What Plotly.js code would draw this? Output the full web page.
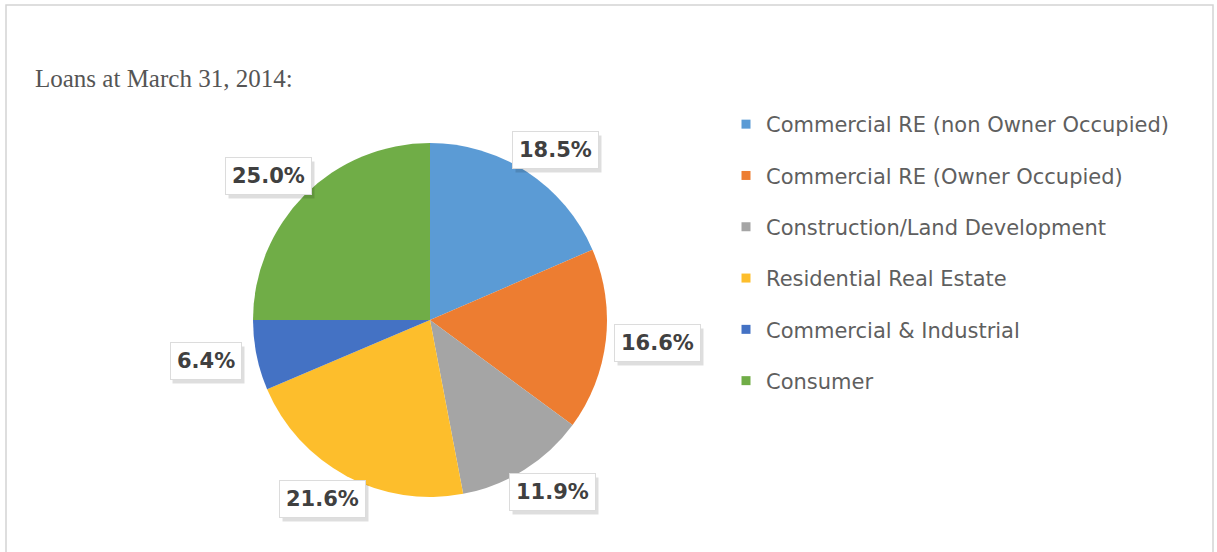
<!DOCTYPE html>
<html>
<head>
<meta charset="utf-8">
<script src="https://cdn.plot.ly/plotly-3.0.1.min.js"></script>
<style>
  html, body { margin: 0; padding: 0; background: #ffffff; }
  #chart { width: 1217px; height: 552px; }
</style>
</head>
<body>
<div id="chart"></div>
<script>
// ---- data ----
const categories = [
  "Commercial RE (non Owner Occupied)",
  "Commercial RE (Owner Occupied)",
  "Construction/Land Development",
  "Residential Real Estate",
  "Commercial & Industrial",
  "Consumer"
];
const shares = [18.5, 16.6, 11.9, 21.6, 6.4, 25.0];
const colors = ["#5B9BD5", "#ED7D31", "#A5A5A5", "#FDBE2C", "#4472C4", "#70AD47"];
const chartTitle = "Loans at March 31, 2014:";

// ---- geometry (page layout) ----
const W = 1217, H = 552;
const pieCx = 430, pieCy = 320, pieR = 177;
const domX = [(pieCx - pieR) / W, (pieCx + pieR) / W];
const domY = [1 - (pieCy + pieR) / H, 1 - (pieCy - pieR) / H];

const pie = {
  type: "pie",
  labels: categories,
  values: shares,
  sort: false,
  direction: "clockwise",
  rotation: 0,
  textinfo: "none",
  hoverinfo: "skip",
  showlegend: false,
  marker: { colors: colors, line: { width: 0 } },
  domain: { x: domX, y: domY }
};

// legend entries (one per category, each its own group for spacing)
const legendTraces = categories.map((c, i) => ({
  type: "scatter",
  mode: "markers",
  x: [null], y: [null],
  name: c,
  legendgroup: "g" + i,
  showlegend: true,
  hoverinfo: "skip",
  marker: { symbol: "square", size: 9, color: colors[i] }
}));

// blank string of roughly the same width as a label (for the drop shadow box)
function blankLike(t) {
  let s = "";
  for (const ch of t) {
    const n = ch === "." ? 1 : ch === "%" ? 3 : 2;
    s += "\u00A0".repeat(n);
  }
  return s;
}

// data labels computed from the slice angles
const total = shares.reduce((a, b) => a + b, 0);
const gap = 8, boxW = 88, boxH = 36;
const annotations = [];
let cum = 0;
shares.forEach((v, i) => {
  const theta = 2 * Math.PI * (cum + v / 2) / total;
  cum += v;
  const s = Math.sin(theta), c = Math.cos(theta);
  const px = pieCx + (pieR + gap) * s + (boxW / 2) * s;
  const py = pieCy - (pieR + gap) * c - (boxH / 2) * c;
  const txt = v.toFixed(1) + "%";
  const base = {
    xref: "paper", yref: "paper",
    x: px / W, y: 1 - py / H,
    xanchor: "center", yanchor: "middle",
    showarrow: false,
    borderpad: 6,
    borderwidth: 1
  };
  // shadow
  annotations.push(Object.assign({}, base, {
    text: blankLike(txt),
    font: { family: "DejaVu Sans", size: 21, weight: "bold", color: "rgba(0,0,0,0)" },
    bgcolor: "rgba(0,0,0,0.13)",
    bordercolor: "rgba(0,0,0,0)",
    xshift: 3, yshift: -4
  }));
  // box
  annotations.push(Object.assign({}, base, {
    text: txt,
    font: { family: "DejaVu Sans", size: 21, weight: "bold", color: "#404040" },
    bgcolor: "#ffffff",
    bordercolor: "#dcdcdc"
  }));
});

const layout = {
  width: W, height: H,
  margin: { l: 0, r: 0, t: 0, b: 0 },
  paper_bgcolor: "#ffffff",
  plot_bgcolor: "#ffffff",
  title: {
    text: chartTitle,
    font: { family: "Liberation Serif", size: 25, color: "#555555" },
    x: 35 / W, xanchor: "left", xref: "paper",
    y: 1 - 78 / H, yanchor: "middle", yref: "paper"
  },
  xaxis: { visible: false },
  yaxis: { visible: false },
  showlegend: true,
  legend: {
    x: 726 / W, xanchor: "left",
    y: 1 - 104 / H, yanchor: "top",
    orientation: "v",
    traceorder: "grouped",
    tracegroupgap: 21,
    font: { family: "DejaVu Sans", size: 21, color: "#5f5f5f" },
    bgcolor: "rgba(0,0,0,0)",
    borderwidth: 0
  },
  annotations: annotations,
  shapes: [{
    type: "rect", xref: "paper", yref: "paper",
    x0: 6 / W, x1: 1213 / W, y0: -0.05, y1: 1 - 5 / H,
    line: { color: "#d4d4d4", width: 1.5 },
    fillcolor: "rgba(0,0,0,0)",
    layer: "below"
  }],
  hovermode: false
};

Plotly.newPlot("chart", [pie].concat(legendTraces), layout, { displayModeBar: false, staticPlot: true });
</script>
</body>
</html>
